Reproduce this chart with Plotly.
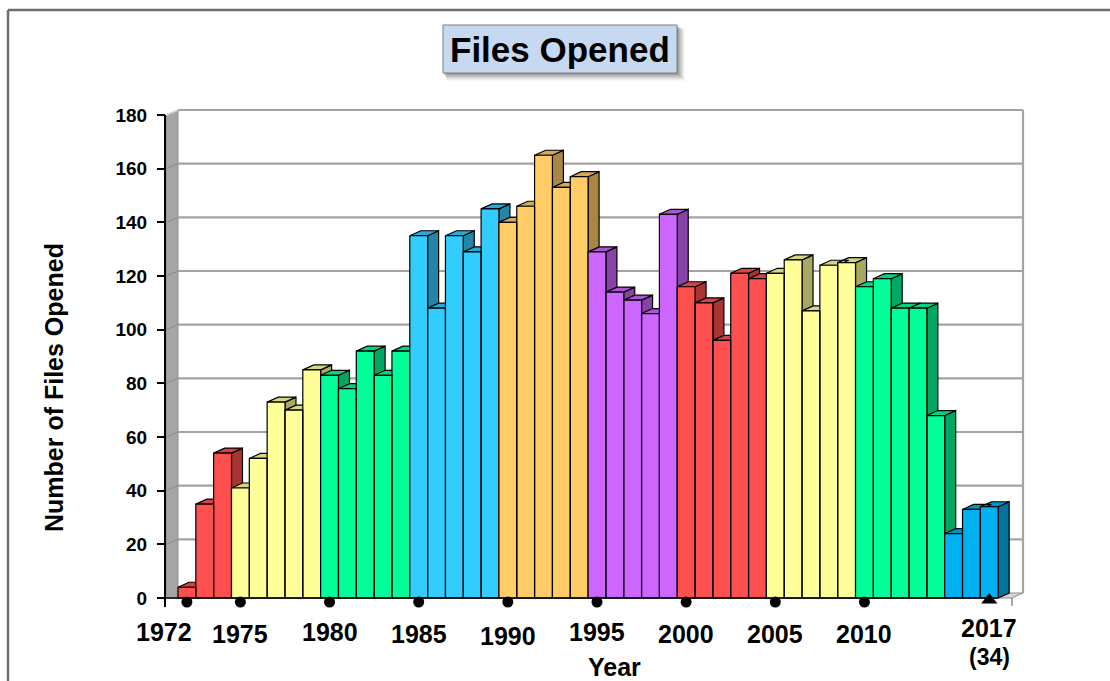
import plotly.graph_objects as go

# ---------------- data ----------------
years = list(range(1972, 2018))
files_opened = [4, 35, 54, 41, 52, 73, 70, 85, 83, 78, 92, 83, 92,
                135, 108, 135, 129, 145, 140, 146, 165, 153, 157,
                129, 114, 111, 106, 143, 116, 110, 96, 121, 119,
                121, 126, 107, 124, 125, 116, 119, 108, 108, 68,
                24, 33, 34]
group_starts = [1972, 1975, 1980, 1985, 1990, 1995, 2000, 2005, 2010, 2015]
group_colors = ["#FF5050", "#FFFF99", "#00FF99", "#33CCFF", "#FFCC66",
                "#CC66FF", "#FF5050", "#FFFF99", "#00FF99", "#00B0F0"]
label_years = [1972, 1975, 1980, 1985, 1990, 1995, 2000, 2005, 2010, 2017]
dot_years = [1972, 1975, 1980, 1985, 1990, 1995, 2000, 2005, 2010]
last_year = 2017
last_note = "(34)"
y_ticks = list(range(0, 181, 20))

# ---------------- layout geometry ----------------
W, H = 1110, 681
PL, PR, PT, PB = 166, 1030, 106, 612          # plot area in pixels
BAR0_PX, BAR_PX = 186.9, 17.83                  # px of first bar centre, px per year
Y0_PX, Y_PX = 598.0, 2.6833                     # px of value 0, px per unit
DX = 11 / BAR_PX                                # 3-D depth offset (years)
DY = 5 / Y_PX                                   # 3-D depth offset (units)

def xdata(px):
    return years[0] + (px - BAR0_PX) / BAR_PX

def ydata(px):
    return (Y0_PX - px) / Y_PX

def xp(px):
    return (px - PL) / (PR - PL)

def yp(px):
    return (PB - px) / (PB - PT)

X_RANGE = [xdata(PL), xdata(PR)]
Y_RANGE = [ydata(PB), ydata(PT)]
XF = X_RANGE[0]                 # front plane left edge (axis)
XB = years[0] - 0.5             # back edge of left wall
XRB = xdata(1023)               # back wall right edge
XRF = XRB - DX                  # floor front right edge


def shade(hexc, f):
    h = hexc.lstrip("#")
    r, g, b = (int(h[i:i + 2], 16) for i in (0, 2, 4))
    return "#%02X%02X%02X" % (int(r * f), int(g * f), int(b * f))


def group_of(yr):
    gi = 0
    for i, s in enumerate(group_starts):
        if yr >= s:
            gi = i
    return gi


def poly_xy(polys):
    xs, ys = [], []
    for p in polys:
        for (a, b) in p:
            xs.append(a)
            ys.append(b)
        xs.append(p[0][0])
        ys.append(p[0][1])
        xs.append(None)
        ys.append(None)
    return xs, ys


fig = go.Figure()

def add_poly(polys, fill, line="#000000", lw=1.2):
    xs, ys = poly_xy(polys)
    fig.add_trace(go.Scatter(x=xs, y=ys, mode="lines", fill="toself",
                             fillcolor=fill, line=dict(color=line, width=lw),
                             hoverinfo="skip", showlegend=False))

def add_lines(segs, color, lw):
    xs, ys = [], []
    for (a, b), (c, d) in segs:
        xs += [a, c, None]
        ys += [b, d, None]
    fig.add_trace(go.Scatter(x=xs, y=ys, mode="lines",
                             line=dict(color=color, width=lw),
                             hoverinfo="skip", showlegend=False))

# floor
add_poly([[(XF, 0), (XRF, 0), (XRB, DY), (XB, DY)]], "#D4D4D4", "#8C8C8C", 1)
# left wall
add_poly([[(XF, 0), (XF, y_ticks[-1]), (XB, y_ticks[-1] + DY), (XB, 0)]],
         "#A6A6A6", "#8C8C8C", 1)
add_lines([((XF, v), (XB, v + DY)) for v in y_ticks[1:-1]], "#8A8A8A", 1)
add_lines([((XF, y_ticks[-1]), (XB, y_ticks[-1] + DY))], "#D8D8D8", 1.5)
# back wall gridlines + right edge
add_lines([((XB, v + DY), (XRB, v + DY)) for v in y_ticks[1:]]
          + [((XRB, DY), (XRB, y_ticks[-1] + DY))], "#A3A3A3", 2.2)

# 3-D bars: sides, tops, fronts (painter order)
sides = {i: [] for i in range(len(group_starts))}
tops = {i: [] for i in range(len(group_starts))}
fronts = {i: [] for i in range(len(group_starts))}
for yr, v in zip(years, files_opened):
    g = group_of(yr)
    l, r = yr - 0.5, yr + 0.5
    sides[g].append([(r, 0), (r + DX, DY), (r + DX, v + DY), (r, v)])
    tops[g].append([(l, v), (r, v), (r + DX, v + DY), (l + DX, v + DY)])
    fronts[g].append([(l, 0), (r, 0), (r, v), (l, v)])
for g, polys in sides.items():
    add_poly(polys, shade(group_colors[g], 0.66))
for g, polys in tops.items():
    add_poly(polys, shade(group_colors[g], 0.84))
for g, polys in fronts.items():
    add_poly(polys, group_colors[g])

# baseline and end tick
add_lines([((XF, 0), (years[-1] + 0.5, 0))], "#000000", 1.6)
add_lines([((XRF, 0), (XRF, ydata(606)))], "#555555", 1)

# markers
fig.add_trace(go.Scatter(x=dot_years, y=[ydata(602)] * len(dot_years), mode="markers",
                         marker=dict(color="black", size=11, symbol="circle"),
                         hoverinfo="skip", showlegend=False))
fig.add_trace(go.Scatter(x=[last_year], y=[ydata(600)], mode="markers",
                         marker=dict(color="black", size=14, symbol="triangle-up"),
                         hoverinfo="skip", showlegend=False))

FONT = "Arial, Liberation Sans, sans-serif"
shapes = []
# outer border
shapes.append(dict(type="line", xref="paper", yref="paper", x0=xp(8), y0=yp(10),
                   x1=xp(W + 5), y1=yp(10), line=dict(color="#6E6E6E", width=2.5)))
shapes.append(dict(type="line", xref="paper", yref="paper", x0=xp(8), y0=yp(10),
                   x1=xp(8), y1=yp(H + 5), line=dict(color="#6E6E6E", width=2.5)))
# y axis line
shapes.append(dict(type="line", xref="paper", yref="paper", x0=xp(165), y0=yp(607),
                   x1=xp(165), y1=yp(115), line=dict(color="#000000", width=2)))
# title box with shadow
for k, a in zip(range(8, 0, -1), [0.03, 0.04, 0.05, 0.06, 0.07, 0.08, 0.09, 0.10]):
    shapes.append(dict(type="rect", xref="paper", yref="paper",
                       x0=xp(443 + k * 0.5), y0=yp(73 + k), x1=xp(677 + k), y1=yp(25 + k * 0.6),
                       fillcolor="rgba(0,0,0,%.2f)" % a, line=dict(width=0)))
shapes.append(dict(type="rect", xref="paper", yref="paper",
                   x0=xp(443), y0=yp(73), x1=xp(677), y1=yp(25),
                   fillcolor="#C6D9F1", line=dict(color="#7F7F7F", width=1)))

annotations = []
annotations.append(dict(text="Files Opened", xref="paper", yref="paper",
                        x=xp(560), y=yp(50), showarrow=False,
                        font=dict(family=FONT, size=35, color="black", weight="bold"),
                        xanchor="center", yanchor="middle"))
label_y_px = {1972: 632, 1975: 634, 1980: 632, 1985: 634, 1990: 636,
              1995: 632, 2000: 634, 2005: 634, 2010: 634, 2017: 628}
label_x_shift = {1972: -23}
for yr in label_years:
    annotations.append(dict(text=str(yr), xref="x", yref="paper", x=yr,
                            y=yp(label_y_px[yr]), xshift=label_x_shift.get(yr, 0),
                            showarrow=False, xanchor="center", yanchor="middle",
                            font=dict(family=FONT, size=25, color="black", weight="bold")))
annotations.append(dict(text=last_note, xref="x", yref="paper", x=last_year, y=yp(657),
                        showarrow=False, xanchor="center", yanchor="middle",
                        font=dict(family=FONT, size=23, color="black", weight="bold")))
annotations.append(dict(text="Year", xref="paper", yref="paper", x=xp(614), y=yp(667),
                        showarrow=False, xanchor="center", yanchor="middle",
                        font=dict(family=FONT, size=25, color="black", weight="bold")))
annotations.append(dict(text="Number of Files Opened", xref="paper", yref="paper",
                        x=xp(54), y=yp(388), textangle=-90, showarrow=False,
                        xanchor="center", yanchor="middle",
                        font=dict(family=FONT, size=25, color="black", weight="bold")))

fig.update_layout(
    width=W, height=H,
    margin=dict(l=PL, r=W - PR, t=PT, b=H - PB, pad=0),
    paper_bgcolor="white", plot_bgcolor="white",
    showlegend=False,
    xaxis=dict(range=X_RANGE, showgrid=False, zeroline=False, showline=False,
               showticklabels=False, ticks="", fixedrange=True),
    yaxis=dict(range=Y_RANGE, showgrid=False, zeroline=False, showline=False,
               tickmode="array", tickvals=y_ticks, ticktext=[str(t) for t in y_ticks],
               ticks="outside", ticklen=8, tickwidth=1.5, tickcolor="black",
               ticklabelstandoff=6,
               tickfont=dict(family=FONT, size=19, color="black", weight="bold"),
               fixedrange=True),
    shapes=shapes,
    annotations=annotations,
)

fig.write_html("out.html", config={"displayModeBar": False},
               post_script="document.body.style.margin='0';document.body.style.overflow='hidden';")
